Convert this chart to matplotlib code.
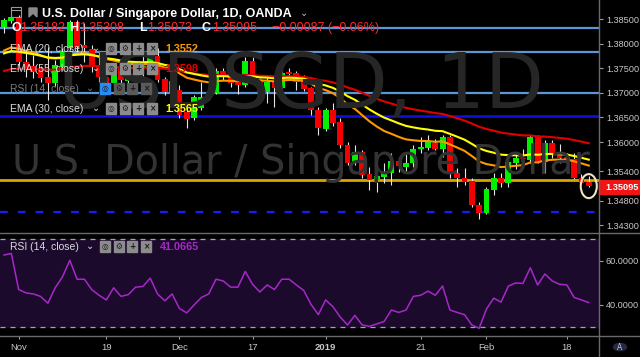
import numpy as np
import pandas as pd
import matplotlib
matplotlib.use("Agg")
import matplotlib.pyplot as plt
from matplotlib.patches import Rectangle, Ellipse, Circle, Polygon
from matplotlib.lines import Line2D

# USDSGD daily candles, OANDA
opens = [1.38347, 1.38469, 1.38551, 1.37633, 1.37551, 1.37469, 1.37327, 1.37204, 1.37531, 1.37918,
         1.38449, 1.37980, 1.37898, 1.37571, 1.37327, 1.37204, 1.37531, 1.37245, 1.37306, 1.37510,
         1.37612, 1.37755, 1.37286, 1.37020, 1.37061, 1.36612, 1.36490, 1.36694, 1.36918, 1.37000,
         1.37449, 1.37388, 1.37224, 1.37163, 1.37653, 1.37286, 1.37020, 1.37224, 1.37102, 1.37408,
         1.37408, 1.37224, 1.37102, 1.36653, 1.36265, 1.36653, 1.36408, 1.35939, 1.35571, 1.35796,
         1.35347, 1.35225, 1.35286, 1.35367, 1.35612, 1.35490, 1.35571, 1.35857, 1.35878, 1.35980,
         1.35857, 1.36102, 1.35367, 1.35265, 1.35204, 1.34714, 1.34551, 1.35020, 1.35265, 1.35163,
         1.35571, 1.35673, 1.35633, 1.36102, 1.35592, 1.35980, 1.35775, 1.35694, 1.35653, 1.35265,
         1.35182]
highs = [1.38531, 1.38592, 1.38592, 1.37837, 1.37776, 1.37551, 1.37939, 1.37673, 1.37918, 1.38490,
         1.38490, 1.38428, 1.37980, 1.37837, 1.37429, 1.37571, 1.37673, 1.37469, 1.37633, 1.37776,
         1.37878, 1.37918, 1.37327, 1.37286, 1.37163, 1.36694, 1.36959, 1.37224, 1.37163, 1.37510,
         1.37510, 1.37490, 1.37306, 1.37735, 1.37735, 1.37306, 1.37306, 1.37306, 1.37571, 1.37510,
         1.37449, 1.37367, 1.37122, 1.36714, 1.36694, 1.36796, 1.36490, 1.36000, 1.35939, 1.35837,
         1.35490, 1.35388, 1.35571, 1.35775, 1.35694, 1.35755, 1.35939, 1.36102, 1.36143, 1.36061,
         1.36143, 1.36143, 1.35469, 1.35469, 1.35265, 1.34775, 1.35082, 1.35367, 1.35367, 1.35633,
         1.35735, 1.35857, 1.36143, 1.36143, 1.36041, 1.36041, 1.35959, 1.35775, 1.35775, 1.35347,
         1.35308]
lows = [1.38224, 1.38428, 1.37571, 1.37327, 1.37306, 1.37224, 1.36857, 1.37143, 1.37469, 1.37878,
        1.37837, 1.37633, 1.37429, 1.37224, 1.37102, 1.37102, 1.37163, 1.37184, 1.37265, 1.37265,
        1.37551, 1.37224, 1.36959, 1.36980, 1.36490, 1.36286, 1.36449, 1.36653, 1.36857, 1.36980,
        1.37265, 1.37122, 1.36980, 1.37122, 1.37204, 1.36959, 1.36796, 1.36714, 1.36857, 1.37327,
        1.37061, 1.37041, 1.36551, 1.36143, 1.36224, 1.36327, 1.35878, 1.35531, 1.35531, 1.35265,
        1.35020, 1.34980, 1.35163, 1.35122, 1.35388, 1.35388, 1.35490, 1.35775, 1.35837, 1.35837,
        1.35694, 1.35265, 1.35082, 1.35122, 1.34673, 1.34429, 1.34531, 1.34918, 1.35082, 1.35082,
        1.35449, 1.35490, 1.35571, 1.35571, 1.35367, 1.35673, 1.35571, 1.35490, 1.35245, 1.35143,
        1.35073]
closes = [1.38490, 1.38551, 1.37633, 1.37469, 1.37429, 1.37306, 1.37204, 1.37571, 1.37837, 1.38449,
          1.37939, 1.37918, 1.37531, 1.37327, 1.37204, 1.37408, 1.37265, 1.37306, 1.37510, 1.37551,
          1.37755, 1.37265, 1.37020, 1.37245, 1.36551, 1.36469, 1.36918, 1.36918, 1.37000, 1.37449,
          1.37367, 1.37204, 1.37163, 1.37653, 1.37265, 1.37020, 1.37224, 1.37102, 1.37408, 1.37388,
          1.37224, 1.37081, 1.36653, 1.36286, 1.36653, 1.36388, 1.35939, 1.35571, 1.35796, 1.35327,
          1.35225, 1.35306, 1.35367, 1.35612, 1.35510, 1.35571, 1.35857, 1.35898, 1.36000, 1.35857,
          1.36102, 1.35367, 1.35265, 1.35184, 1.34714, 1.34551, 1.35041, 1.35265, 1.35163, 1.35592,
          1.35673, 1.35653, 1.36102, 1.35612, 1.35980, 1.35775, 1.35673, 1.35653, 1.35265, 1.35163,
          1.35095]
rsi14 = [62.7, 63.4, 47.0, 45.5, 45.0, 43.9, 40.8, 47.8, 52.8, 60.3,
         51.7, 51.7, 47.0, 44.4, 42.3, 47.8, 43.9, 44.7, 48.1, 48.4,
         52.2, 45.0, 41.9, 45.0, 38.4, 36.4, 40.0, 43.4, 45.0, 51.7,
         50.9, 48.1, 48.1, 55.2, 49.4, 45.9, 49.1, 47.0, 51.7, 51.7,
         49.1, 46.6, 40.3, 35.6, 42.3, 39.2, 34.5, 30.9, 35.3, 30.9,
         30.3, 31.4, 32.5, 37.7, 36.6, 37.7, 43.9, 44.4, 46.3, 44.4,
         48.6, 37.7, 36.6, 35.6, 30.9, 29.4, 38.1, 43.1, 41.3, 48.6,
         50.0, 49.8, 56.9, 49.1, 54.1, 50.9, 49.4, 49.1, 43.4, 42.3,
         41.07]

# EMA settings and the level each one had at the left edge of the chart
ema_spans = [20, 55, 30]
ema_start = [1.3780, 1.3741, 1.3776]
ema_colors = ["#ff9800", "#e00000", "#ffff00"]
ema_last = ["1.3552", "1.3598", "1.3565"]

# horizontal levels drawn on the chart
levels_light = [1.3833, 1.3783, 1.3700]
level_blue = 1.3654
level_gold = 1.3522
level_dash = 1.3457

price_ticks = [1.385, 1.380, 1.375, 1.370, 1.365, 1.360, 1.354, 1.348, 1.343]
time_dates = ["2018-11-01", "2018-11-19", "2018-12-03", "2018-12-17",
              "2019-01-02", "2019-01-21", "2019-02-01", "2019-02-18"]
time_labels = ["Nov", "19", "Dec", "17", "2019", "21", "Feb", "18"]

dates = pd.bdate_range("2018-10-30", "2019-02-21")
dates = dates[~dates.isin(pd.to_datetime(["2018-12-25", "2019-01-01"]))]
n = len(closes)
idx = np.arange(n)

W, H = 640, 357
fig = plt.figure(figsize=(6.4, 3.57), dpi=100, facecolor="black")


def fx(x):
    return x / W


def fy(y):
    return 1 - y / H


ax = fig.add_axes([0, fy(232), 599 / W, 232 / H])
rax = fig.add_axes([0, fy(336), 599 / W, 103 / H])
for a in (ax, rax):
    a.set_facecolor("black")
    for s in a.spines.values():
        s.set_visible(False)
    a.set_xlim(-0.55, 81.4)

ax.set_ylim(1.34164, 1.38897)

# watermark
fig.text(fx(301), fy(108), "USDSGD, 1D", ha="center", va="baseline",
         fontsize=55, color="#262626", family="DejaVu Sans", zorder=0)
fig.text(fx(301), fy(174), "U.S. Dollar / Singapore Dollar", ha="center", va="baseline",
         fontsize=28.5, color="#333333", family="DejaVu Sans", zorder=0)

# levels
for lv in levels_light:
    ax.axhline(lv, color="#5d95d6", lw=1.6, zorder=2)
ax.axhline(level_blue, color="#1010e0", lw=1.8, zorder=2)
ax.axhline(level_gold, color="#d8a400", lw=2.0, zorder=2)
ax.axhline(level_dash, color="#1a1aff", lw=1.6, ls=(0, (3.5, 4.5)), zorder=2)

# candles
up = np.array(closes) >= np.array(opens)
body_lo = np.minimum(opens, closes)
body_h = np.maximum(np.abs(np.array(closes) - np.array(opens)), 0.0003)
ax.vlines(idx, lows, highs, color="#e6e6e6", lw=0.8, zorder=3)
ax.bar(idx, body_h, bottom=body_lo, width=0.8,
       color=np.where(up, "#00f000", "#f40000"), zorder=4)

# EMAs
for span, start, col in zip(ema_spans, ema_start, ema_colors):
    e = pd.Series([start] + closes).ewm(span=span, adjust=False).mean().values[1:]
    ax.plot(idx, e, color=col, lw=1.5, zorder=5)

ax.add_patch(Ellipse((80, 1.3510), 2.2, 0.0049, fill=False, ec="#efe3c0", lw=1.5, zorder=6))

ax.yaxis.tick_right()
ax.set_yticks(price_ticks)
ax.set_yticklabels([f"{p:.5f}" for p in price_ticks], family="Liberation Sans")
ax.tick_params(axis="y", color="#a0a0a0", labelcolor="#c8c8c8", labelsize=6.6,
               length=3, pad=2)
ax.set_xticks([])

# RSI pane
rax.set_ylim(25.9, 72.7)
rax.axhspan(30, 70, color="#1c0a2c", zorder=0)
rax.axhline(70, color="#a8a0b8", lw=0.9, ls=(0, (4, 4)))
rax.axhline(30, color="#a8a0b8", lw=0.9, ls=(0, (4, 4)))
rax.plot(idx, rsi14, color="#a628c8", lw=1.1, zorder=3)
rax.yaxis.tick_right()
rax.set_yticks([60, 40])
rax.set_yticklabels(["60.0000", "40.0000"], family="Liberation Sans")
rax.tick_params(axis="y", color="#a0a0a0", labelcolor="#c8c8c8", labelsize=6.6,
                length=3, pad=2)
tpos = [int(np.where(dates == pd.Timestamp(d))[0][0]) for d in time_dates]
rax.set_xticks(tpos)
rax.set_xticklabels(time_labels, family="Liberation Sans")
rax.tick_params(axis="x", color="#a0a0a0", labelcolor="#c8c8c8", labelsize=6.8,
                length=2, pad=3)
rax.get_xticklabels()[4].set_fontweight("bold")

# pane separators
for (x0, y0, x1, y1) in [(599, 0, 599, 357), (0, 232.5, 640, 232.5), (0, 336, 640, 336)]:
    fig.add_artist(Line2D([fx(x0), fx(x1)], [fy(y0), fy(y1)], color="#6a6a6a", lw=1))

# last price tag
fig.add_artist(Rectangle((fx(599), fy(194)), 41 / W, 14 / H, color="#f01414"))
fig.text(fx(605), fy(187), "1.35095", color="white", fontsize=6.6, weight="bold",
         family="Liberation Sans", va="center", ha="left")

# "A" button
fig.add_artist(Circle((fx(620), fy(347)), 6.5 / W, color="#262a40",
                      transform=fig.transFigure))
fig.text(fx(620), fy(347), "A", color="#b8c4ff", fontsize=5.5, ha="center", va="center")

# header
fig.add_artist(Rectangle((fx(11), fy(17)), 10 / W, 10 / H, fill=False, ec="#9a9a9a", lw=0.8))
fig.add_artist(Line2D([fx(11), fx(21)], [fy(10), fy(10)], color="#9a9a9a", lw=0.8))
fig.add_artist(Polygon([[fx(29), fy(8)], [fx(37), fy(8)], [fx(37), fy(17)], [fx(33), fy(13)],
                        [fx(29), fy(17)]], closed=True, color="#8a8a8a"))
fig.text(fx(42), fy(17), "U.S. Dollar / Singapore Dollar, 1D, OANDA", color="white",
         fontsize=9, weight="bold", family="Liberation Sans", va="baseline")
fig.text(fx(300), fy(16), "⌄", color="#c0c0c0", fontsize=7, family="DejaVu Sans", va="baseline")

ohlc_parts = [("O", "white", 12), ("1.35182", "#ff2a2a", 20), ("H", "white", 69),
              ("1.35308", "#ff2a2a", 79), ("L", "white", 139), ("1.35073", "#ff2a2a", 147),
              ("C", "white", 202), ("1.35095", "#ff2a2a", 212),
              ("\u22120.00087 (\u22120.06%)", "#ff2a2a", 272)]
for txt, col, x in ohlc_parts:
    fig.text(fx(x), fy(31), txt, color=col, fontsize=9, family="Liberation Sans",
             weight="bold" if col == "white" else "normal", va="baseline")

glyphs = ["◎", "⚙", "+", "×"]


def legend_row(ybase, label, lcol, value, vcol, icon_x, vx, blue_first=False, dim=False):
    fig.text(fx(10), fy(ybase), label, color=lcol, fontsize=7.5, family="Liberation Sans",
             va="baseline")
    fig.text(fx(icon_x - 14), fy(ybase - 1), "⌄", color=lcol, fontsize=7,
             family="DejaVu Sans", va="baseline")
    for k, g in enumerate(glyphs):
        x0 = icon_x + k * 13.6
        fc = "#2a8cf0" if (blue_first and k == 0) else ("#5a5a5a" if dim else "#8c8c8c")
        fig.add_artist(Rectangle((fx(x0), fy(ybase + 1.5)), 10 / W, 10.5 / H, color=fc))
        fig.text(fx(x0 + 5), fy(ybase - 3.6), g, color="#1a1a1a", fontsize=5.5,
                 family="DejaVu Sans", ha="center", va="center", weight="bold")
    if value:
        fig.text(fx(vx), fy(ybase), value, color=vcol, fontsize=7.8, family="Liberation Sans",
                 weight="bold", va="baseline")


legend_row(52, "EMA (20, close)", "#dcdcdc", ema_last[0], ema_colors[0], 106, 165)
legend_row(72, "EMA (55, close)", "#dcdcdc", ema_last[1], ema_colors[1], 106, 165)
legend_row(92, "RSI (14, close)", "#7a7a7a", "", "", 100, 0, blue_first=True, dim=True)
legend_row(112, "EMA (30, close)", "#dcdcdc", ema_last[2], ema_colors[2], 106, 165)
legend_row(250, "RSI (14, close)", "#dcdcdc", "41.0665", "#a628c8", 100, 160)

fig.savefig("out.png", dpi=100, facecolor="black")
